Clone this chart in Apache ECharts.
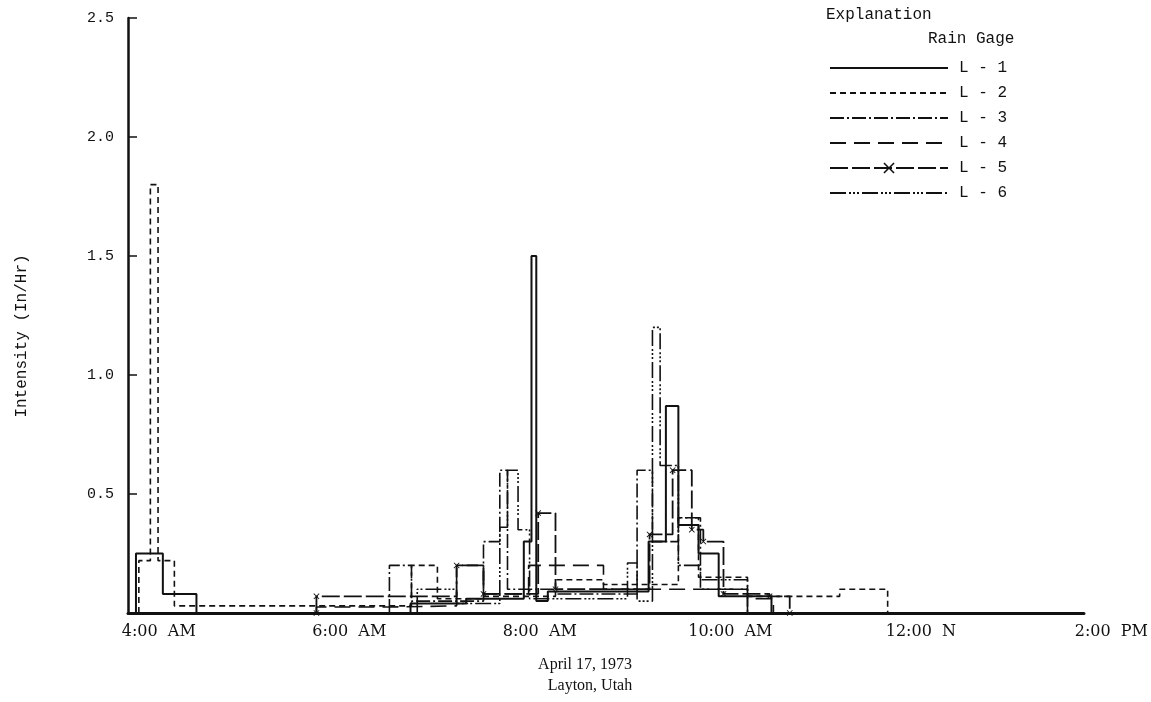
<!DOCTYPE html>
<html>
<head>
<meta charset="utf-8">
<script src="https://cdn.jsdelivr.net/npm/echarts@6/dist/echarts.min.js"></script>
<style>
  html, body { margin: 0; padding: 0; background: #fff; }
  #chart { width: 1151px; height: 702px; }
</style>
</head>
<body>
<div id="chart"></div>
<script>
// times are decimal hours (7.5 = 7:30 AM), intensities in in/hr
// each value holds from its time until the next time; the last value (0) closes the step
const gageNames = ['L - 1', 'L - 2', 'L - 3', 'L - 4', 'L - 5', 'L - 6'];

const l1Times  = [3.76, 4.04, 4.39, 6.62, 7.20, 7.80, 7.88, 7.93, 8.05, 9.10, 9.28, 9.41, 9.62, 9.83, 10.38];
const l1Values = [0.25, 0.08, 0,    0.04, 0.06, 0.30, 1.50, 0.05, 0.09, 0.30, 0.87, 0.37, 0.25, 0.07, 0];

const l2Times  = [3.79, 3.91, 3.99, 4.16, 6.63, 6.90, 7.38, 8.13, 8.63, 9.41, 9.62, 10.13, 11.09, 11.59];
const l2Values = [0.22, 1.80, 0.22, 0.03, 0.20, 0.06, 0.07, 0.14, 0.12, 0.40, 0.15, 0.07,  0.10,  0];

const l3Times  = [6.40, 6.63, 7.38, 7.55, 7.63, 8.13, 8.98, 9.14, 9.41, 9.64, 10.13];
const l3Values = [0.20, 0.05, 0.30, 0.60, 0.10, 0.08, 0.60, 0.30, 0.40, 0.10, 0];

const l4Times  = [5.64,  6.41, 7.10, 7.38, 7.85, 8.63, 10.13, 10.40];
const l4Values = [0.025, 0.03, 0.20, 0.08, 0.20, 0.10, 0.06,  0];

const l5Times  = [5.64, 7.10, 7.38, 7.95, 8.13, 9.11, 9.35, 9.55, 9.67, 9.88, 10.36, 10.57];
const l5Values = [0.07, 0.20, 0.08, 0.42, 0.10, 0.33, 0.60, 0.35, 0.30, 0.08, 0.07,  0];

const l6Times  = [6.69, 7.10, 7.55, 7.63, 7.74, 7.86, 8.88, 8.98, 9.14, 9.22, 9.41, 9.64, 10.13];
const l6Values = [0.10, 0.04, 0.36, 0.60, 0.35, 0.06, 0.21, 0.05, 1.20, 0.62, 0.20, 0.14, 0];

const timeTicks = [4, 6, 8, 10, 12, 14];
const timeLabels = ['4:00  AM', '6:00  AM', '8:00  AM', '10:00  AM', '12:00  N', '2:00  PM'];

const gageTimes = [l1Times, l2Times, l3Times, l4Times, l5Times, l6Times];
const gageValues = [l1Values, l2Values, l3Values, l4Values, l5Values, l6Values];
const gageDash = ['solid', [6, 4], [14, 3, 2, 3], [16, 8], [18, 4], [16, 3, 2, 2, 2, 2, 2, 3]];
const gageWidth = [2, 1.6, 1.6, 1.6, 1.8, 1.6];

// axis geometry
const xMin = 3.677, xMax = 13.635, pxPerHour = 96;
const plotLeft = 128, plotTop = 18, plotBottom = 89;
const labelMax = 14.35;

const chart = echarts.init(document.getElementById('chart'));

const crossPath = 'path://M0,1L1,0L5,4L9,0L10,1L6,5L10,9L9,10L5,6L1,10L0,9L4,5Z';

const series = gageNames.map((name, i) => {
  const t = gageTimes[i], v = gageValues[i];
  const data = [[t[0], 0]];
  for (let k = 0; k < t.length; k++) data.push([t[k], v[k]]);
  const s = {
    name: name,
    type: 'line',
    step: 'end',
    data: data,
    xAxisIndex: 0,
    yAxisIndex: 0,
    symbol: 'none',
    lineStyle: { color: '#111', width: gageWidth[i], type: gageDash[i] },
    itemStyle: { color: '#111' },
    silent: true
  };
  if (i === 4) {
    s.symbol = crossPath;
    s.symbolSize = 6;
    s.showSymbol = true;
  }
  return s;
});

chart.setOption({
  animation: false,
  backgroundColor: '#fff',
  grid: [
    { left: plotLeft, top: plotTop, bottom: plotBottom, width: (xMax - xMin) * pxPerHour },
    { left: plotLeft, top: plotTop, bottom: plotBottom, width: (labelMax - xMin) * pxPerHour }
  ],
  xAxis: [
    {
      type: 'value', gridIndex: 0, min: xMin, max: xMax,
      axisLine: { show: true, lineStyle: { color: '#111', width: 3 } },
      axisTick: { show: false }, axisLabel: { show: false }, splitLine: { show: false }
    },
    {
      type: 'value', gridIndex: 1, min: xMin, max: labelMax,
      axisLine: { show: false }, axisTick: { show: false }, splitLine: { show: false },
      axisLabel: {
        customValues: timeTicks,
        margin: 11,
        color: '#111',
        fontFamily: 'DejaVu Serif',
        fontSize: 16,
        formatter: (val) => timeLabels[timeTicks.indexOf(val)] || ''
      }
    }
  ],
  yAxis: [
    {
      type: 'value', gridIndex: 0, min: 0, max: 2.5, interval: 0.5,
      axisLine: { show: true, lineStyle: { color: '#111', width: 2.5 } },
      axisTick: { show: true, inside: true, length: 9, lineStyle: { color: '#111', width: 1.5 } },
      axisLabel: {
        showMinLabel: false, margin: 14, color: '#111',
        fontFamily: 'Liberation Mono', fontSize: 15,
        formatter: (v) => v.toFixed(1)
      },
      splitLine: { show: false }
    },
    { type: 'value', gridIndex: 1, min: 0, max: 2.5, show: false }
  ],
  legend: {
    orient: 'vertical',
    left: 824, top: 55,
    itemWidth: 118, itemHeight: 14, itemGap: 9,
    selectedMode: false,
    textStyle: { fontFamily: 'Liberation Mono', fontSize: 16, color: '#111', padding: [0, 0, 0, 6] },
    data: gageNames.map((n, i) => i === 4 ? n : { name: n, itemStyle: { opacity: 0 } })
  },
  graphic: [
    { type: 'text', left: 826, top: 7, style: { text: 'Explanation', font: '16px "Liberation Mono"', fill: '#111' } },
    { type: 'text', left: 928, top: 31, style: { text: 'Rain Gage', font: '16px "Liberation Mono"', fill: '#111' } },
    { type: 'text', x: 22, y: 336, rotation: Math.PI / 2,
      style: { text: 'Intensity (In/Hr)', font: '16px "Liberation Mono"', fill: '#111', align: 'center', verticalAlign: 'middle' } },
    { type: 'text', x: 585, y: 665, style: { text: 'April 17, 1973', font: '16px "Liberation Serif"', fill: '#111', align: 'center', verticalAlign: 'middle' } },
    { type: 'text', x: 590, y: 686, style: { text: 'Layton, Utah', font: '16px "Liberation Serif"', fill: '#111', align: 'center', verticalAlign: 'middle' } }
  ],
  series: series
});
</script>
</body>
</html>
